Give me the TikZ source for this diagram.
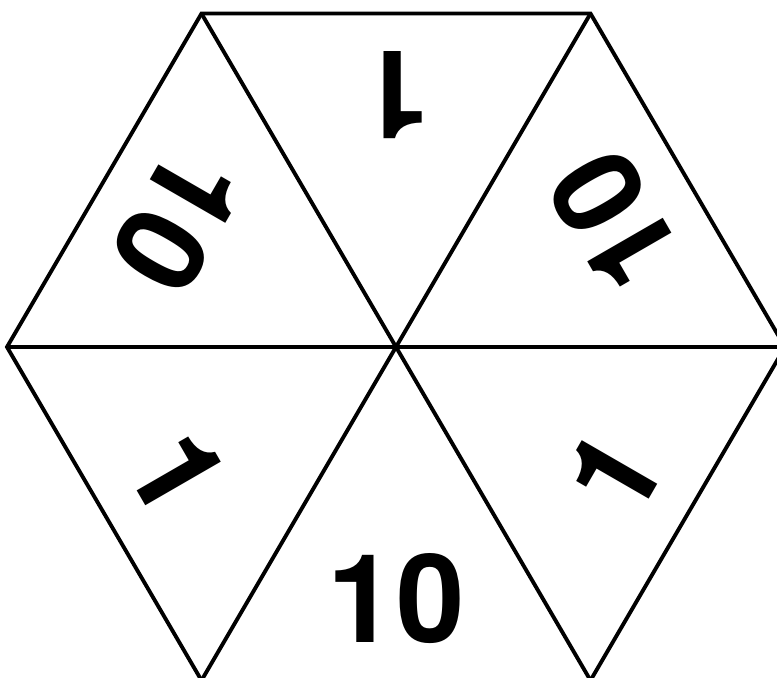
\documentclass[tikz,border=0pt]{standalone}
\usepackage{fontspec}
\newfontfamily\dicefont{TeX Gyre Heros}
\usepackage{tikz}

\begin{document}
\begin{tikzpicture}[
x=0.02cm, y=0.02cm,
edge/.style={line width=2.2pt, line join=miter},
num/.style={font=\dicefont\bfseries\fontsize{70}{70}\selectfont, inner sep=0pt}
]
\useasboundingbox (0,0) rectangle (777,678);
\clip (0,0) rectangle (777,678);
\coordinate (ctr) at (396,331);
\foreach \a in {0,60,...,300}
  \coordinate (v\a) at ([shift={(\a:389 and 385)}]ctr);

% outline and the three diagonals
\draw[edge] (v0) -- (v60) -- (v120) -- (v180) -- (v240) -- (v300) -- cycle;
\draw[edge] (v0) -- (v180) (v60) -- (v240) (v120) -- (v300);

% numbers, bottoms toward the outer edge
\node[num, rotate=180] (top) at ([shift={(90:252)}]ctr) {1};
\node[num, rotate=-120] (topleft) at ([shift={(150:252)}]ctr) {10};
\node[num, rotate=120] (topright) at ([shift={(30:252)}]ctr) {10};
\node[num, rotate=-60] (botleft) at ([shift={(210:252)}]ctr) {1};
\node[num, rotate=60] (botright) at ([shift={(330:252)}]ctr) {1};
\node[num] (bot) at ([shift={(270:252)}]ctr) {10};
\end{tikzpicture}
\end{document}
